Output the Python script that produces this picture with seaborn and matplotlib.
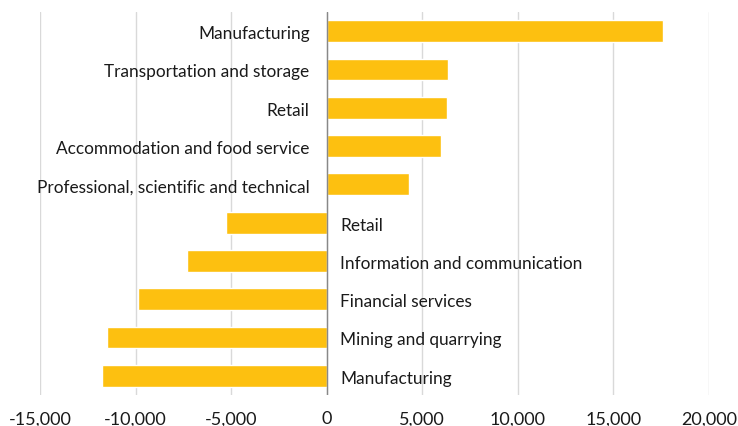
import matplotlib
matplotlib.use("Agg")
import matplotlib.pyplot as plt
import seaborn as sns
import pandas as pd

# sectors, top to bottom
sectors = [
    "Manufacturing",
    "Transportation and storage",
    "Retail",
    "Accommodation and food service",
    "Professional, scientific and technical",
    "Retail",
    "Information and communication",
    "Financial services",
    "Mining and quarrying",
    "Manufacturing",
]
values = [17590, 6320, 6310, 5990, 4290, -5250, -7330, -9860, -11480, -11760]
x_ticks = [-15000, -10000, -5000, 0, 5000, 10000, 15000, 20000]

bar_color = "#FDC010"
text_color = "#1a1a1a"

df = pd.DataFrame({
    "row": [str(i) for i in range(len(sectors))],
    "sector": sectors,
    "value": values,
})

sns.set_style("white")
plt.rcParams["font.family"] = ["Lato", "DejaVu Sans"]

fig = plt.figure(figsize=(7.38, 4.27), dpi=100)
ax = fig.add_axes([0.0542, 0.0726, 0.9065, 0.897])

sns.barplot(data=df, x="value", y="row", orient="h", color=bar_color,
            saturation=1, width=0.57, ax=ax)

ax.set_xlim(-15000, 20000)
ax.set_ylim(len(sectors) - 0.5, -0.5)
ax.set_xticks(x_ticks)
ax.set_xticklabels([f"{t:,}" for t in x_ticks], fontsize=13, color=text_color)
ax.set_yticks([])
ax.set_xlabel("")
ax.set_ylabel("")
ax.tick_params(axis="x", length=0, pad=11)

ax.grid(axis="x", color="#d9d9d9", linewidth=1)
ax.set_axisbelow(True)
ax.axvline(0, color="#888888", linewidth=1, zorder=3)
for s in ax.spines.values():
    s.set_visible(False)

# category labels sit beside the zero line, on the opposite side of the bar
for i, (name, v) in enumerate(zip(sectors, values)):
    if v >= 0:
        ax.text(-900, i + 0.05, name, ha="right", va="center", fontsize=12.4, color=text_color)
    else:
        ax.text(700, i + 0.05, name, ha="left", va="center", fontsize=12.4, color=text_color)

fig.savefig("out.png", dpi=100)
plt.close(fig)
